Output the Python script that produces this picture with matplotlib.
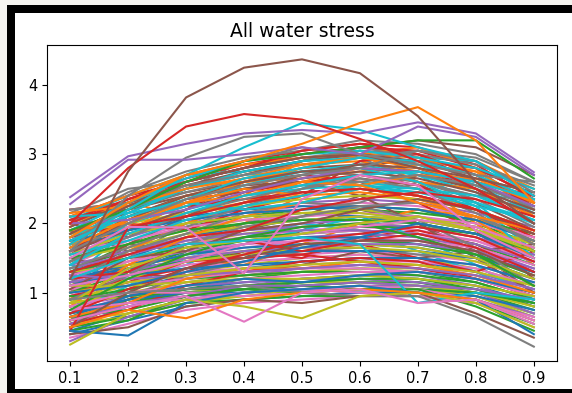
import matplotlib
matplotlib.use("Agg")
import matplotlib.pyplot as plt
from matplotlib.patches import Rectangle

# water stress index sampled at nine levels
levels = [0.1, 0.2, 0.3, 0.4, 0.5, 0.6, 0.7, 0.8, 0.9]

# runs sitting high in the band
upper_runs = [
    [2.10, 2.40, 2.60, 2.80, 2.95, 3.00, 2.80, 2.50, 2.10],
    [2.00, 2.30, 2.55, 2.70, 2.90, 3.10, 3.00, 2.70, 2.30],
    [1.90, 2.20, 2.50, 2.75, 2.85, 2.90, 2.75, 2.60, 2.20],
    [2.05, 2.25, 2.45, 2.60, 2.80, 2.85, 2.90, 2.80, 2.40],
    [1.80, 2.10, 2.40, 2.55, 2.70, 2.80, 2.70, 2.45, 2.00],
    [2.20, 2.30, 2.70, 2.90, 3.05, 3.15, 3.10, 2.85, 2.35],
    [1.70, 2.20, 2.45, 2.65, 2.75, 2.70, 2.60, 2.35, 1.95],
    [1.95, 2.35, 2.55, 2.60, 2.65, 2.75, 2.85, 2.75, 2.30],
    [2.10, 2.20, 2.40, 2.55, 2.60, 2.65, 2.55, 2.30, 1.90],
    [1.85, 2.10, 2.30, 2.50, 2.55, 2.60, 2.50, 2.40, 2.05],
    [1.60, 2.00, 2.35, 2.45, 2.60, 2.70, 2.55, 2.20, 1.80],
    [2.00, 2.45, 2.75, 2.95, 3.05, 3.20, 3.15, 3.00, 2.60],
    [1.75, 2.05, 2.40, 2.60, 2.80, 2.95, 3.05, 2.90, 2.50],
    [1.90, 2.15, 2.50, 2.70, 2.90, 3.10, 3.20, 3.10, 2.70],
    [1.50, 1.90, 2.20, 2.40, 2.50, 2.55, 2.45, 2.30, 2.00],
    [1.65, 2.00, 2.25, 2.35, 2.45, 2.50, 2.40, 2.20, 1.85],
    [2.15, 2.50, 2.60, 2.80, 3.00, 3.10, 2.95, 2.60, 2.20],
    [1.70, 1.95, 2.15, 2.30, 2.40, 2.45, 2.35, 2.10, 1.75],
    [1.45, 1.85, 2.10, 2.30, 2.45, 2.50, 2.40, 2.20, 1.90],
    [1.80, 2.20, 2.50, 2.70, 2.75, 2.85, 2.70, 2.55, 2.25],
    [2.05, 2.35, 2.65, 2.85, 3.00, 3.10, 3.05, 2.80, 2.40],
    [1.85, 2.25, 2.60, 2.80, 2.95, 3.05, 3.00, 2.85, 2.55],
    [2.10, 2.40, 2.70, 2.85, 2.95, 3.00, 2.95, 2.75, 2.30],
    [1.95, 2.30, 2.55, 2.75, 2.90, 3.00, 2.90, 2.65, 2.45],
    [1.65, 2.15, 2.50, 2.75, 2.90, 2.95, 2.85, 2.55, 2.15],
    [2.00, 2.35, 2.60, 2.80, 3.05, 3.15, 3.00, 2.70, 2.25],
    [1.75, 2.20, 2.55, 2.70, 2.85, 2.95, 3.05, 2.95, 2.60],
    [2.15, 2.25, 2.50, 2.65, 2.85, 2.95, 2.80, 2.60, 2.35],
    [1.55, 2.05, 2.40, 2.60, 2.75, 2.80, 2.75, 2.50, 2.20],
    [1.90, 2.30, 2.65, 2.90, 3.00, 3.05, 2.95, 2.80, 2.50],
]

# runs through the middle of the band
middle_runs = [
    [1.30, 1.70, 1.95, 2.10, 2.20, 2.25, 2.20, 2.00, 1.70],
    [1.40, 1.75, 2.00, 2.15, 2.25, 2.30, 2.25, 2.10, 1.80],
    [1.20, 1.50, 1.80, 1.95, 2.05, 2.10, 2.05, 1.90, 1.60],
    [1.55, 1.80, 2.05, 2.20, 2.30, 2.35, 2.30, 2.15, 1.95],
    [1.10, 1.45, 1.70, 1.85, 1.95, 2.00, 1.95, 1.80, 1.50],
    [1.35, 1.60, 1.85, 2.00, 2.10, 2.20, 2.15, 2.05, 1.85],
    [1.00, 1.40, 1.65, 1.80, 1.90, 1.95, 1.90, 1.75, 1.45],
    [1.60, 1.90, 2.10, 2.20, 2.25, 2.20, 2.10, 1.95, 1.65],
    [1.25, 1.55, 1.75, 1.90, 2.00, 2.05, 2.00, 1.85, 1.55],
    [1.45, 1.70, 1.90, 2.05, 2.15, 2.20, 2.10, 1.95, 1.70],
    [0.90, 1.30, 1.60, 1.75, 1.85, 1.90, 1.85, 1.70, 1.40],
    [1.15, 1.45, 1.70, 1.80, 1.85, 1.90, 1.85, 1.75, 1.50],
    [1.70, 1.85, 2.00, 2.10, 2.15, 2.10, 2.00, 1.85, 1.60],
    [1.05, 1.35, 1.55, 1.70, 1.80, 1.85, 1.80, 1.65, 1.35],
    [1.50, 1.65, 1.85, 1.95, 2.05, 2.10, 2.05, 1.90, 1.75],
    [1.30, 1.50, 1.65, 1.80, 1.85, 1.95, 1.95, 1.85, 1.60],
    [0.95, 1.25, 1.50, 1.65, 1.75, 1.80, 1.75, 1.60, 1.30],
    [1.20, 1.40, 1.60, 1.70, 1.80, 1.80, 1.70, 1.55, 1.30],
    [1.40, 1.60, 1.80, 1.90, 1.95, 2.00, 1.95, 1.80, 1.55],
    [1.85, 2.00, 2.15, 2.25, 2.35, 2.40, 2.35, 2.20, 1.90],
    [1.00, 1.30, 1.45, 1.60, 1.70, 1.75, 1.70, 1.55, 1.25],
    [1.60, 1.75, 1.95, 2.05, 2.10, 2.15, 2.10, 2.00, 1.80],
    [1.10, 1.35, 1.55, 1.65, 1.70, 1.70, 1.65, 1.50, 1.20],
    [1.35, 1.55, 1.75, 1.85, 1.90, 1.90, 1.85, 1.70, 1.45],
    [0.85, 1.20, 1.45, 1.55, 1.65, 1.70, 1.65, 1.50, 1.20],
    [1.50, 1.70, 1.90, 2.00, 2.05, 2.05, 2.00, 1.85, 1.60],
    [1.25, 1.45, 1.60, 1.70, 1.75, 1.75, 1.75, 1.65, 1.40],
    [1.75, 1.90, 2.05, 2.15, 2.20, 2.25, 2.20, 2.05, 1.75],
    [1.15, 1.30, 1.50, 1.60, 1.65, 1.70, 1.70, 1.60, 1.35],
    [1.55, 1.85, 2.00, 2.10, 2.15, 2.15, 2.05, 1.90, 1.65],
]

# runs near the floor of the band
lower_runs = [
    [0.80, 1.05, 1.25, 1.35, 1.45, 1.50, 1.45, 1.30, 1.05],
    [0.70, 0.95, 1.15, 1.25, 1.35, 1.40, 1.35, 1.20, 0.95],
    [0.90, 1.10, 1.30, 1.40, 1.50, 1.55, 1.50, 1.35, 1.10],
    [0.60, 0.85, 1.05, 1.20, 1.30, 1.35, 1.30, 1.15, 0.90],
    [1.00, 1.20, 1.35, 1.45, 1.50, 1.55, 1.50, 1.40, 1.15],
    [0.75, 0.90, 1.05, 1.15, 1.20, 1.25, 1.20, 1.10, 0.85],
    [0.50, 0.80, 1.00, 1.10, 1.20, 1.25, 1.25, 1.10, 0.80],
    [0.85, 1.00, 1.15, 1.25, 1.30, 1.35, 1.35, 1.25, 1.00],
    [0.65, 0.75, 0.95, 1.05, 1.15, 1.20, 1.15, 1.00, 0.75],
    [1.10, 1.25, 1.40, 1.50, 1.55, 1.60, 1.55, 1.45, 1.20],
    [0.45, 0.70, 0.90, 1.00, 1.10, 1.15, 1.10, 0.95, 0.70],
    [0.95, 1.15, 1.25, 1.30, 1.35, 1.40, 1.40, 1.30, 1.05],
    [0.55, 0.65, 0.85, 0.95, 1.05, 1.10, 1.05, 0.95, 0.65],
    [0.70, 0.85, 1.00, 1.05, 1.10, 1.15, 1.15, 1.05, 0.80],
    [1.05, 1.15, 1.30, 1.35, 1.40, 1.45, 1.45, 1.35, 1.10],
    [0.40, 0.60, 0.80, 0.90, 0.95, 1.00, 1.00, 0.90, 0.60],
    [0.80, 0.95, 1.10, 1.15, 1.20, 1.20, 1.15, 1.05, 0.85],
    [0.60, 0.70, 0.90, 0.95, 1.00, 1.05, 1.05, 0.95, 0.70],
    [0.90, 1.05, 1.20, 1.25, 1.30, 1.30, 1.25, 1.15, 0.90],
    [0.35, 0.55, 0.75, 0.85, 0.90, 0.95, 0.95, 0.85, 0.50],
    [1.20, 1.35, 1.45, 1.55, 1.60, 1.60, 1.60, 1.50, 1.30],
    [0.65, 0.80, 0.95, 1.00, 1.05, 1.05, 1.00, 0.90, 0.65],
    [1.30, 1.40, 1.50, 1.60, 1.65, 1.65, 1.60, 1.45, 1.20],
    [0.50, 0.65, 0.85, 0.90, 0.95, 0.95, 0.95, 0.85, 0.55],
    [0.75, 1.00, 1.10, 1.20, 1.25, 1.30, 1.30, 1.20, 0.95],
    [1.15, 1.25, 1.35, 1.40, 1.45, 1.50, 1.50, 1.40, 1.15],
    [0.30, 0.65, 0.90, 1.00, 1.05, 1.10, 1.10, 1.00, 0.70],
    [0.85, 0.95, 1.00, 1.10, 1.15, 1.15, 1.10, 1.00, 0.80],
    [0.60, 0.90, 1.05, 1.10, 1.15, 1.20, 1.20, 1.05, 0.85],
    [1.00, 1.10, 1.20, 1.30, 1.35, 1.35, 1.30, 1.20, 0.95],
    [0.70, 0.90, 1.00, 1.00, 1.05, 1.00, 1.00, 0.95, 0.75],
    [0.95, 0.95, 1.05, 1.05, 1.10, 1.05, 1.05, 1.00, 0.85],
    [0.55, 0.85, 0.95, 1.10, 1.10, 1.15, 1.10, 1.05, 0.90],
    [0.80, 1.00, 1.00, 0.95, 1.00, 1.10, 1.05, 0.90, 0.55],
    [1.10, 1.10, 1.15, 1.20, 1.20, 1.25, 1.20, 1.10, 0.95],
    [0.65, 0.95, 1.10, 1.20, 1.15, 1.25, 1.30, 1.20, 1.00],
    [0.45, 0.60, 0.95, 1.05, 1.00, 1.05, 1.05, 0.80, 0.45],
    [1.25, 1.20, 1.25, 1.30, 1.35, 1.40, 1.35, 1.25, 1.05],
    [0.75, 0.85, 0.90, 1.00, 1.05, 1.00, 0.95, 0.85, 0.65],
    [1.00, 1.15, 1.25, 1.35, 1.40, 1.45, 1.40, 1.30, 1.10],
]

# runs that wander up and down across the band
mixed_runs = [
    [0.60, 1.30, 1.80, 2.00, 2.40, 2.60, 2.50, 2.20, 1.70],
    [1.90, 1.60, 1.70, 1.90, 2.10, 2.40, 2.70, 2.50, 2.00],
    [1.20, 1.90, 2.30, 2.20, 2.50, 2.90, 2.70, 2.30, 1.60],
    [2.00, 1.80, 2.20, 2.60, 2.70, 2.60, 2.30, 1.90, 1.20],
    [0.80, 1.00, 1.60, 2.00, 2.20, 2.30, 2.60, 2.40, 2.20],
    [1.70, 2.30, 2.10, 2.40, 2.90, 3.00, 2.60, 2.00, 1.40],
    [1.00, 1.70, 1.60, 1.50, 1.90, 2.20, 2.00, 1.60, 1.00],
    [1.40, 1.20, 1.40, 1.80, 2.00, 1.90, 1.60, 1.30, 0.90],
    [0.50, 0.90, 1.30, 1.60, 1.50, 1.80, 1.90, 1.70, 1.30],
    [2.20, 2.30, 2.50, 2.90, 3.10, 2.95, 2.60, 2.40, 2.35],
    [1.10, 1.40, 1.50, 1.40, 1.70, 2.00, 2.20, 2.10, 1.60],
    [1.60, 2.10, 2.40, 2.50, 2.60, 2.40, 2.00, 1.50, 1.00],
    [0.70, 1.10, 1.50, 1.70, 1.90, 2.10, 1.80, 1.40, 0.90],
    [1.80, 2.00, 1.90, 2.20, 2.40, 2.90, 3.00, 2.60, 2.40],
    [1.30, 1.50, 2.00, 2.30, 2.50, 2.70, 2.90, 2.80, 2.20],
    [0.90, 1.60, 2.00, 2.30, 2.60, 2.80, 2.60, 2.50, 2.10],
    [1.50, 1.30, 1.20, 1.30, 1.40, 1.60, 1.50, 1.60, 1.70],
    [2.05, 2.40, 2.70, 2.75, 2.90, 3.05, 2.95, 2.90, 2.40],
    [1.00, 1.20, 1.35, 1.60, 1.55, 1.70, 1.50, 1.30, 1.60],
    [0.60, 0.95, 1.25, 1.45, 1.60, 1.65, 1.55, 1.50, 1.20],
    [1.70, 1.90, 2.30, 2.60, 2.80, 3.00, 3.10, 2.80, 2.10],
    [1.25, 1.70, 2.10, 2.45, 2.70, 2.85, 2.80, 2.55, 2.30],
    [1.40, 2.00, 2.25, 2.55, 2.75, 2.80, 2.60, 2.25, 1.50],
    [0.95, 1.15, 1.45, 1.50, 1.55, 1.45, 1.35, 1.20, 1.00],
    [1.15, 1.60, 1.85, 2.15, 2.30, 2.25, 2.05, 1.65, 1.10],
    [0.80, 1.40, 1.80, 2.10, 2.30, 2.50, 2.40, 2.05, 1.50],
    [1.60, 1.90, 2.20, 2.50, 2.65, 2.75, 2.65, 2.45, 2.15],
    [2.10, 2.15, 2.30, 2.20, 2.30, 2.50, 2.45, 2.25, 2.05],
    [0.55, 0.75, 1.10, 1.30, 1.45, 1.50, 1.45, 1.20, 0.95],
    [1.35, 1.65, 1.95, 2.25, 2.50, 2.65, 2.50, 2.15, 1.70],
    [1.90, 2.00, 2.30, 2.50, 2.40, 2.55, 2.70, 2.65, 2.30],
    [0.70, 1.05, 1.35, 1.55, 1.75, 1.85, 1.95, 1.80, 1.45],
    [1.05, 1.50, 1.60, 1.90, 2.00, 2.20, 2.35, 2.20, 1.85],
    [1.45, 1.80, 2.15, 2.35, 2.55, 2.60, 2.70, 2.55, 2.25],
    [1.75, 2.10, 2.35, 2.65, 2.80, 2.95, 2.90, 2.70, 2.35],
    [0.65, 0.85, 1.20, 1.35, 1.35, 1.45, 1.40, 1.25, 1.00],
    [1.20, 1.30, 1.70, 1.75, 1.60, 1.75, 1.85, 1.65, 1.30],
    [1.85, 2.25, 2.60, 2.80, 2.95, 3.00, 2.80, 2.65, 2.45],
    [0.90, 1.25, 1.70, 1.95, 2.10, 2.25, 2.30, 2.10, 1.75],
    [1.55, 1.75, 2.05, 2.25, 2.40, 2.55, 2.50, 2.30, 2.05],
    [1.00, 1.10, 1.30, 1.45, 1.65, 1.80, 2.00, 1.85, 1.50],
    [1.65, 2.05, 2.30, 2.40, 2.60, 2.55, 2.30, 2.10, 1.90],
    [0.75, 1.20, 1.55, 1.80, 1.95, 2.00, 1.80, 1.55, 1.10],
    [1.30, 1.55, 1.80, 1.90, 2.20, 2.35, 2.45, 2.35, 2.10],
    [2.00, 2.05, 2.20, 2.45, 2.65, 2.80, 2.75, 2.60, 2.25],
    [0.50, 1.00, 1.35, 1.50, 1.70, 1.75, 1.75, 1.60, 1.25],
    [1.10, 1.25, 1.45, 1.70, 1.85, 1.95, 2.05, 1.95, 1.65],
    [1.60, 2.00, 2.35, 2.55, 2.70, 2.80, 3.05, 2.90, 2.45],
    [0.85, 1.35, 1.65, 1.75, 1.85, 2.00, 2.10, 1.90, 1.60],
    [1.40, 1.85, 2.15, 2.40, 2.55, 2.70, 2.75, 2.60, 2.35],
]

# runs that stick out of the band
odd_runs = [
    [0.45, 1.95, 2.10, 2.30, 2.45, 2.50, 2.40, 2.20, 1.90],
    [1.20, 1.50, 1.70, 1.75, 1.80, 1.70, 0.85, 1.00, 0.90],
    [0.90, 1.00, 1.05, 1.10, 1.00, 0.95, 0.95, 0.65, 0.22],
    [0.40, 0.50, 0.80, 0.90, 0.85, 0.95, 1.00, 0.70, 0.35],
    [0.45, 0.38, 0.85, 1.00, 1.05, 1.10, 1.00, 0.90, 0.40],
    [0.25, 0.70, 0.90, 0.80, 0.63, 0.95, 1.00, 0.85, 0.50],
    [0.50, 0.75, 0.63, 0.90, 1.00, 1.05, 1.00, 0.90, 0.60],
    [0.60, 0.80, 0.95, 0.58, 1.00, 1.05, 0.85, 0.90, 0.60],
    [1.50, 1.95, 1.94, 1.28, 2.35, 2.70, 2.55, 1.90, 1.50],
    [1.90, 2.20, 2.60, 2.90, 3.00, 3.10, 3.20, 3.20, 2.65],
    [1.60, 2.40, 2.95, 3.25, 3.30, 3.00, 2.85, 2.70, 2.60],
    [1.70, 2.20, 2.70, 3.10, 3.45, 3.35, 3.10, 2.90, 2.40],
    [2.28, 2.92, 2.92, 3.00, 3.10, 3.00, 3.40, 3.25, 2.70],
    [2.38, 2.97, 3.15, 3.30, 3.35, 3.30, 3.46, 3.30, 2.74],
    [1.80, 2.30, 2.70, 2.90, 3.15, 3.45, 3.68, 3.20, 2.30],
    [2.00, 2.80, 3.40, 3.58, 3.50, 3.22, 2.90, 2.50, 2.00],
    [1.20, 2.75, 3.82, 4.25, 4.37, 4.17, 3.55, 2.60, 2.00],
]

odd_colors = ["C3", "C9", "C7", "C5", "C0", "C8", "C1", "C6", "C6",
              "C2", "C7", "C9", "C4", "C4", "C1", "C3", "C5"]

W, H = 572, 393
fig = plt.figure(figsize=(W / 100, H / 100), dpi=100, facecolor="#f5f4f0")


def px_box(x0, y0, x1, y1, color):
    # rectangle given in pixel coordinates measured from the top-left
    fig.patches.append(Rectangle((x0 / W, 1 - y1 / H), (x1 - x0) / W, (y1 - y0) / H,
                                 transform=fig.transFigure, facecolor=color,
                                 edgecolor="none", zorder=-10))


px_box(7, 5, W, H, "black")
px_box(15, 13, W, 389, "white")

ax = fig.add_axes([47 / W, 1 - 361 / H, (557 - 47) / W, (361 - 45) / H])

# interleave the groups so the colour cycle mixes across the band
band = []
for i in range(50):
    for group in (lower_runs, mixed_runs, middle_runs, upper_runs):
        if i < len(group):
            band.append(group[i])

for run in band:
    ax.plot(levels, run, lw=1.5)
for run, c in zip(odd_runs, odd_colors):
    ax.plot(levels, run, lw=1.5, color=c)

ax.set_xticks(levels)
ax.set_xticklabels([str(v) for v in levels])
ax.set_yticks([1, 2, 3, 4])
ax.tick_params(labelsize=10.5)
ax.set_title("All water stress", fontsize=13.5)

fig.savefig("out.png", dpi=100, facecolor=fig.get_facecolor())
